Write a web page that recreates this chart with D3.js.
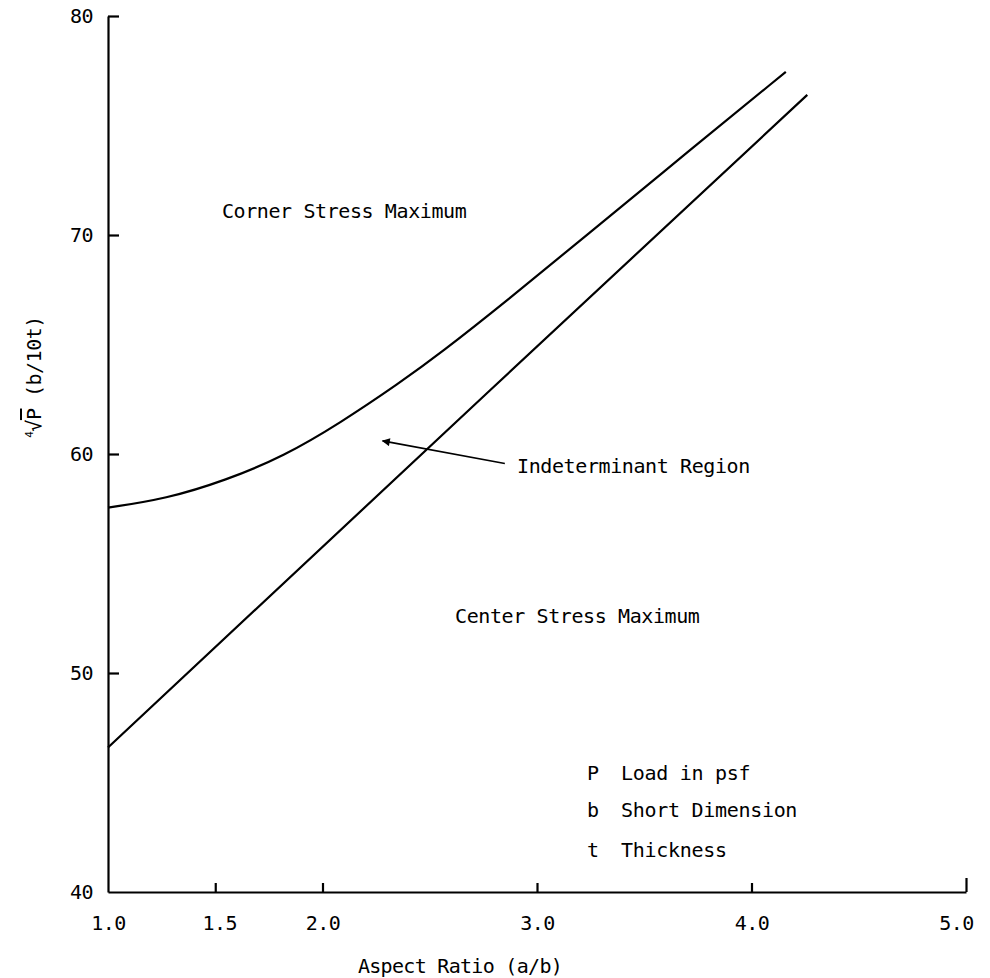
<html>
<script src='https://d3js.org/d3.v7.min.js'></script>
<style>
body {margin:0; background:#fff;}
text {font-family: "DejaVu Sans Mono", monospace; fill:#000;}
</style>
<body>
<svg width=990 height=978></svg>
<script>
// upper boundary (corner stress maximum)
var upperX = [1.0, 1.27, 1.55, 1.82, 2.08, 2.36, 2.55, 2.86, 3.22, 3.71, 4.16];
var upperY = [57.55, 57.95, 58.8, 59.9, 61.4, 63.25, 64.6, 67.0, 69.9, 73.85, 77.45];
// lower boundary (center stress maximum)
var lowerX = [1.0, 2.78, 4.26];
var lowerY = [46.6, 62.9, 76.4];

var xTicks = [1.0, 1.5, 2.0, 3.0, 4.0, 5.0];
var yTicks = [40, 50, 60, 70, 80];

var regionLabels = ["Corner Stress Maximum", "Center Stress Maximum", "Indeterminant Region"];
var regionPos = [[1.531, 70.78], [2.618, 52.28], [2.907, 59.13]];
var arrowFrom = [2.85, 59.57], arrowTo = [2.28, 60.6];

var symbols = ["P", "b", "t"];
var meanings = ["Load in psf", "Short Dimension", "Thickness"];

var svg = d3.select("svg");
var x = d3.scaleLinear().domain([1, 5]).range([108, 966]);
var y = d3.scaleLinear().domain([40, 80]).range([892, 16]);

var line = d3.line().x(function(d){return x(d[0]);}).y(function(d){return y(d[1]);});

svg.append("path")
  .datum(upperX.map(function(v,i){return [v, upperY[i]];}))
  .attr("d", line.curve(d3.curveBasis))
  .attr("fill","none").attr("stroke","#000").attr("stroke-width",2.2);

svg.append("path")
  .datum(lowerX.map(function(v,i){return [v, lowerY[i]];}))
  .attr("d", line.curve(d3.curveLinear))
  .attr("fill","none").attr("stroke","#000").attr("stroke-width",2.2);

// axes
var yAxis = svg.append("g")
  .attr("transform","translate("+x(1)+",0)")
  .call(d3.axisLeft(y).tickValues(yTicks).tickSizeInner(-11).tickSizeOuter(0).tickPadding(15).tickFormat(d3.format("d")));
yAxis.selectAll(".tick").filter(function(d){return d==40;}).select("line").remove();

var xAxis = svg.append("g")
  .attr("transform","translate(0,"+y(40)+")")
  .call(d3.axisBottom(x).tickValues(xTicks).tickSizeInner(-9).tickSizeOuter(0).tickPadding(24).tickFormat(d3.format(".1f")));
xAxis.selectAll(".tick").filter(function(d){return d==1.0;}).select("line").remove();
xAxis.selectAll(".tick").filter(function(d){return d==5.0;}).select("line").attr("y2",-14);
xAxis.selectAll(".tick").filter(function(d){return d==5.0;}).select("text").attr("dx",-10);
xAxis.selectAll(".tick").filter(function(d){return d==1.5;}).select("text").attr("dx",4);

svg.selectAll(".domain, .tick line").attr("stroke","#000").attr("stroke-width",2.2);
svg.selectAll(".tick text").attr("font-family","DejaVu Sans Mono").attr("font-size",20).attr("letter-spacing",-0.6);

// region labels
svg.selectAll(".region").data(regionLabels).enter().append("text")
  .attr("class","region")
  .attr("x",function(d,i){return x(regionPos[i][0]);})
  .attr("y",function(d,i){return y(regionPos[i][1]);})
  .attr("font-size",20).attr("letter-spacing",-0.4)
  .text(function(d){return d;});

// arrow
svg.append("defs").append("marker")
  .attr("id","head").attr("viewBox","0 0 10 10").attr("refX",9).attr("refY",5)
  .attr("markerWidth",7).attr("markerHeight",5).attr("orient","auto")
  .append("path").attr("d","M0,0 L10,5 L0,10 z").attr("fill","#000");
svg.append("line")
  .attr("x1",x(arrowFrom[0])).attr("y1",y(arrowFrom[1]))
  .attr("x2",x(arrowTo[0])).attr("y2",y(arrowTo[1]))
  .attr("stroke","#000").attr("stroke-width",1.6)
  .attr("marker-end","url(#head)");

// key
var key = svg.append("g");
key.selectAll(".sym").data(symbols).enter().append("text")
  .attr("x",587).attr("y",function(d,i){return [780,817,857][i];})
  .attr("font-size",20).text(function(d){return d;});
key.selectAll(".mean").data(meanings).enter().append("text")
  .attr("x",621).attr("y",function(d,i){return [780,817,857][i];})
  .attr("font-size",20).attr("letter-spacing",-0.3).text(function(d){return d;});

// axis titles
svg.append("text")
  .attr("x",460).attr("y",973).attr("text-anchor","middle")
  .attr("font-size",20).attr("letter-spacing",-0.7)
  .text("Aspect Ratio (a/b)");

var yl = svg.append("text")
  .attr("transform","translate(41,377) rotate(-90)")
  .attr("text-anchor","middle").attr("font-size",20).attr("letter-spacing",-0.5);
yl.append("tspan").attr("font-size",11).attr("dy",-8).text("4");
yl.append("tspan").attr("dy",8).text("\u221A");
yl.append("tspan").attr("text-decoration","overline").text("P");
yl.append("tspan").text(" (b/10t)");
</script>
</body>
</html>
